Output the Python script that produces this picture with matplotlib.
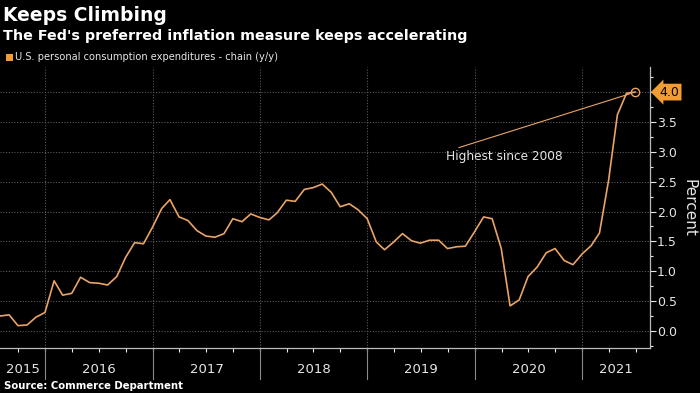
import pandas as pd
import matplotlib
matplotlib.use("Agg")
import matplotlib.pyplot as plt
import matplotlib.dates as mdates
import matplotlib.transforms as mtransforms
from matplotlib.patches import Rectangle
from matplotlib.ticker import MultipleLocator, FuncFormatter

# monthly PCE y/y, Jul 2015 .. Jun 2021 (plotted at month end)
start_month = "2015-07-31"
pce_yoy = [
    0.25, 0.27, 0.09, 0.10, 0.23, 0.31,                                  # 2015 H2
    0.84, 0.60, 0.63, 0.90, 0.81, 0.80, 0.77, 0.91, 1.23, 1.48, 1.46, 1.74,  # 2016
    2.05, 2.20, 1.91, 1.85, 1.68, 1.59, 1.57, 1.63, 1.88, 1.83, 1.96, 1.90,  # 2017
    1.86, 1.98, 2.19, 2.17, 2.37, 2.40, 2.46, 2.32, 2.08, 2.13, 2.03, 1.88,  # 2018
    1.49, 1.36, 1.49, 1.63, 1.51, 1.47, 1.52, 1.52, 1.38, 1.41, 1.42, 1.66,  # 2019
    1.91, 1.88, 1.38, 0.42, 0.52, 0.91, 1.07, 1.31, 1.38, 1.18, 1.11, 1.29,  # 2020
    1.43, 1.64, 2.52, 3.62, 3.98, 4.00,                                  # 2021 H1
]
years = [2015, 2016, 2017, 2018, 2019, 2020, 2021]
x_start, x_end = "2015-07-31", "2021-08-19"

title = "Keeps Climbing"
subtitle = "The Fed's preferred inflation measure keeps accelerating"
series_name = "U.S. personal consumption expenditures - chain (y/y)"
note = "Highest since 2008"
source = "Source: Commerce Department"

dates = pd.date_range(start_month, periods=len(pce_yoy), freq="ME")
last_val = pce_yoy[-1]

BG = "black"
LINE = "#e9a466"
ORANGE = "#f39c34"
GRID = "#5a5a5a"
TXT = "#e6e6e6"

fig = plt.figure(figsize=(7, 3.93), dpi=100, facecolor=BG)
ax = fig.add_axes([0.0, 0.1145, 0.9286, 0.715], facecolor=BG)

ax.plot(dates, pce_yoy, color=LINE, lw=1.2, zorder=3)
ax.plot(dates[-1], last_val, marker="o", ms=6, mfc="none", mec=LINE, mew=1.0, zorder=4)

ax.set_xlim(pd.Timestamp(x_start), pd.Timestamp(x_end))
ax.set_ylim(-0.285, 4.42)


def ytick_fmt(v, pos):
    # the value tag replaces the tick label at the last value
    if abs(v - round(last_val * 2) / 2) < 1e-6:
        return ""
    return f"{v:.1f}"


# y axis on the right
ax.yaxis.tick_right()
ax.yaxis.set_label_position("right")
ax.yaxis.set_major_locator(MultipleLocator(0.5))
ax.yaxis.set_minor_locator(MultipleLocator(0.25))
ax.yaxis.set_major_formatter(FuncFormatter(ytick_fmt))
ax.tick_params(axis="y", which="major", colors=TXT, labelsize=9, length=4, width=0.8, pad=1)
ax.tick_params(axis="y", which="minor", colors=TXT, length=2, width=0.8)
ax.set_ylabel("Percent", color=TXT, fontsize=11, rotation=270, labelpad=14)

# x axis: quarter ticks, year labels centred on visible span
ax.xaxis.set_major_locator(mdates.MonthLocator(bymonth=[1, 4, 7, 10]))
ax.xaxis.set_major_formatter(plt.NullFormatter())
ax.tick_params(axis="x", which="major", colors=TXT, length=3, width=0.8)

for sp in ["left", "top"]:
    ax.spines[sp].set_visible(False)
for sp in ["right", "bottom"]:
    ax.spines[sp].set_color("#bbbbbb")
    ax.spines[sp].set_linewidth(0.9)

ax.grid(axis="y", which="major", color=GRID, ls=(0, (1, 1.5)), lw=0.8)

blend = mtransforms.blended_transform_factory(ax.transData, ax.transAxes)
xmin, xmax = ax.get_xlim()
for y in years:
    y0 = mdates.date2num(pd.Timestamp(f"{y}-01-01"))
    y1 = mdates.date2num(pd.Timestamp(f"{y + 1}-01-01"))
    if xmin < y0 < xmax:
        ax.axvline(y0, color=GRID, ls=(0, (1, 1.5)), lw=0.8, zorder=1)
        ax.plot([y0, y0], [0, -0.11], transform=blend, color="#8a8a8a",
                lw=0.8, clip_on=False)
    c = (max(y0, xmin) + min(y1, xmax)) / 2
    ax.text(c, -0.077, str(y), transform=blend, ha="center", va="center",
            color=TXT, fontsize=9.5)

# callout
ax.annotate(note, xy=(dates[-1], last_val), xytext=(-136, -42),
            textcoords="offset points", ha="left", va="top", color=TXT, fontsize=8.7,
            arrowprops=dict(arrowstyle="-", color=LINE, lw=0.8, relpos=(0.03, 1.0),
                            shrinkA=0, shrinkB=4))

# last value tag on right axis
ax.annotate(f"{last_val:.1f}", xy=(1.0, last_val), xycoords=("axes fraction", "data"),
            xytext=(7, 0), textcoords="offset points", ha="left", va="center",
            color="black", fontsize=9,
            bbox=dict(boxstyle="larrow,pad=0.15", fc=ORANGE, ec="none"))

# header
fig.text(0.004, 0.985, title, color="white", fontsize=13.5, fontweight="bold", va="top")
fig.text(0.004, 0.925, subtitle, color="white", fontsize=10.3, fontweight="bold", va="top")
fig.patches.append(Rectangle((0.009, 0.846), 0.0095, 0.017, transform=fig.transFigure,
                             fc=ORANGE, ec="none"))
fig.text(0.021, 0.855, series_name, color=TXT, fontsize=7.1, va="center")
fig.text(0.006, 0.006, source, color="white", fontsize=7.3, fontweight="bold", va="bottom")

fig.savefig("out.png", dpi=100, facecolor=BG)
